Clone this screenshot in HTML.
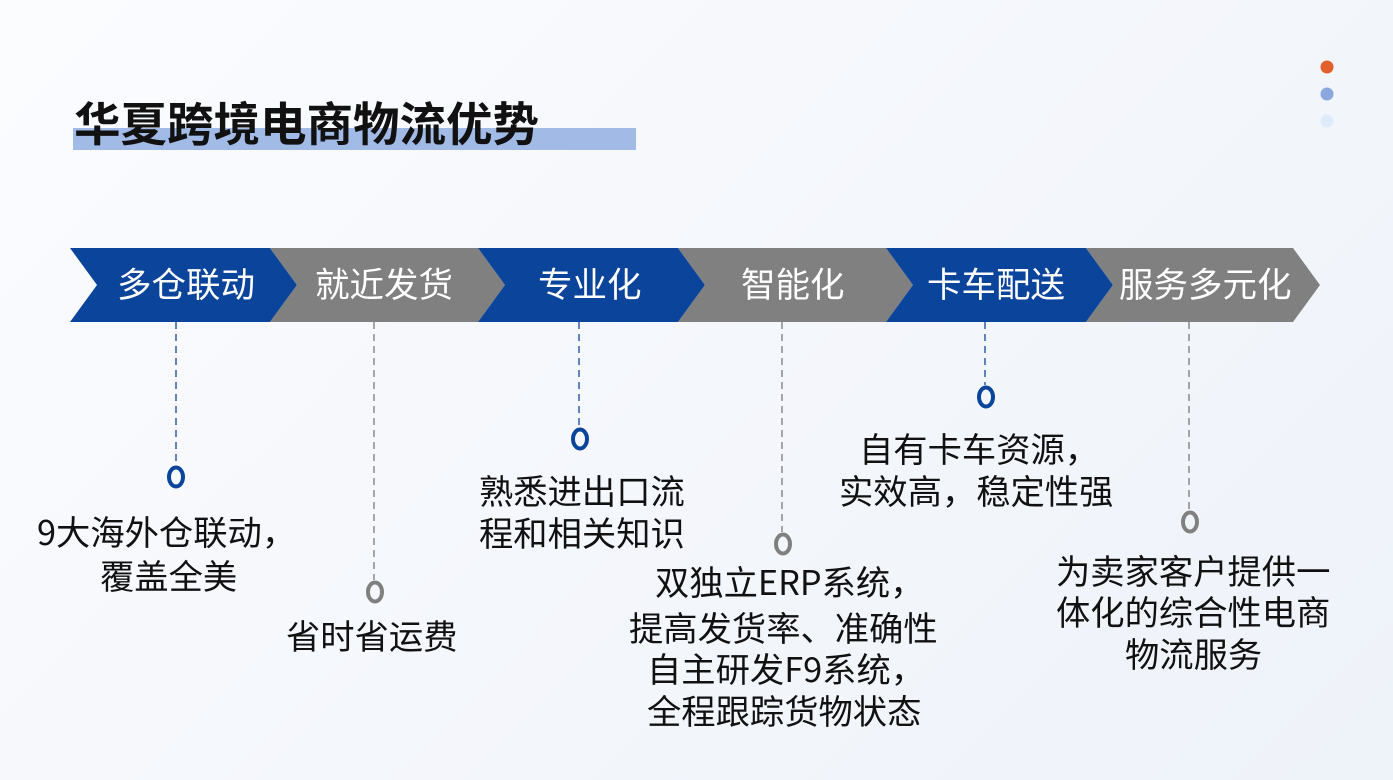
<!DOCTYPE html>
<html><head><meta charset="utf-8"><style>
html,body{margin:0;padding:0;}
body{width:1393px;height:780px;overflow:hidden;background:linear-gradient(135deg,#fbfcfe 0%,#f3f6fb 60%,#eef2f9 100%);}
svg{display:block;}
text{font-family:"Noto Sans CJK SC","Liberation Sans",sans-serif;}
</style></head><body>
<svg width="1393" height="780" viewBox="0 0 1393 780" xmlns="http://www.w3.org/2000/svg">
<circle cx="1327" cy="67" r="6.5" fill="#e2602c"/>
<circle cx="1327" cy="94" r="6.5" fill="#8aa7de"/>
<circle cx="1327" cy="121" r="6.5" fill="#ddebfa"/>
<rect x="73" y="128" width="563" height="22" fill="#a2bae6"/>
<text x="74" y="141" font-size="46.5" font-weight="bold" fill="#111">华夏跨境电商物流优势</text>

<polygon points="70,248 270,248 297,285 270,322 70,322 97,285" fill="#0b449b"/>
<polygon points="270,248 478,248 505,285 478,322 270,322 297,285" fill="#808080"/>
<polygon points="478,248 678,248 705,285 678,322 478,322 505,285" fill="#0b449b"/>
<polygon points="678,248 886,248 913,285 886,322 678,322 705,285" fill="#808080"/>
<polygon points="886,248 1086,248 1113,285 1086,322 886,322 913,285" fill="#0b449b"/>
<polygon points="1086,248 1293,248 1320,285 1293,322 1086,322 1113,285" fill="#808080"/>
<g font-size="34.5" fill="#fff">
<text x="117" y="297">多仓联动</text>
<text x="315" y="297">就近发货</text>
<text x="538" y="297">专业化</text>
<text x="741" y="297">智能化</text>
<text x="927" y="297">卡车配送</text>
<text x="1119" y="297">服务多元化</text>
</g>

<g stroke-width="1.5" stroke-dasharray="7,5" fill="none">
<line x1="176" y1="322" x2="176" y2="465" stroke="#2e5fa8"/>
<line x1="374" y1="322" x2="374" y2="580" stroke="#8a8a8a"/>
<line x1="579" y1="322" x2="579" y2="427" stroke="#2e5fa8"/>
<line x1="782" y1="322" x2="782" y2="532" stroke="#8a8a8a"/>
<line x1="985" y1="322" x2="985" y2="385" stroke="#2e5fa8"/>
<line x1="1189" y1="322" x2="1189" y2="510" stroke="#8a8a8a"/>
</g>
<g fill="none" stroke-width="4">
<ellipse cx="176" cy="477" rx="7" ry="9.5" stroke="#0b449b"/>
<ellipse cx="375" cy="592" rx="7" ry="9.5" stroke="#808080"/>
<ellipse cx="580" cy="439" rx="7" ry="9.5" stroke="#0b449b"/>
<ellipse cx="783" cy="544" rx="7" ry="9.5" stroke="#808080"/>
<ellipse cx="986" cy="397" rx="7" ry="9.5" stroke="#0b449b"/>
<ellipse cx="1190" cy="522" rx="7" ry="9.5" stroke="#808080"/>
</g>

<g font-size="34.3" fill="#111">
<text x="37" y="545">9大海外仓联动，</text>
<text x="100" y="589">覆盖全美</text>
<text x="286" y="649">省时省运费</text>
<text x="479" y="504">熟悉进出口流</text>
<text x="479" y="546">程和相关知识</text>
<text x="655" y="595">双独立ERP系统，</text>
<text x="629" y="641">提高发货率、准确性</text>
<text x="647" y="682">自主研发F9系统，</text>
<text x="647" y="724">全程跟踪货物状态</text>
<text x="859" y="462">自有卡车资源，</text>
<text x="839" y="504">实效高，稳定性强</text>
<text x="1056" y="584">为卖家客户提供一</text>
<text x="1056" y="625">体化的综合性电商</text>
<text x="1125" y="667">物流服务</text>
</g>
</svg>
</body></html>
